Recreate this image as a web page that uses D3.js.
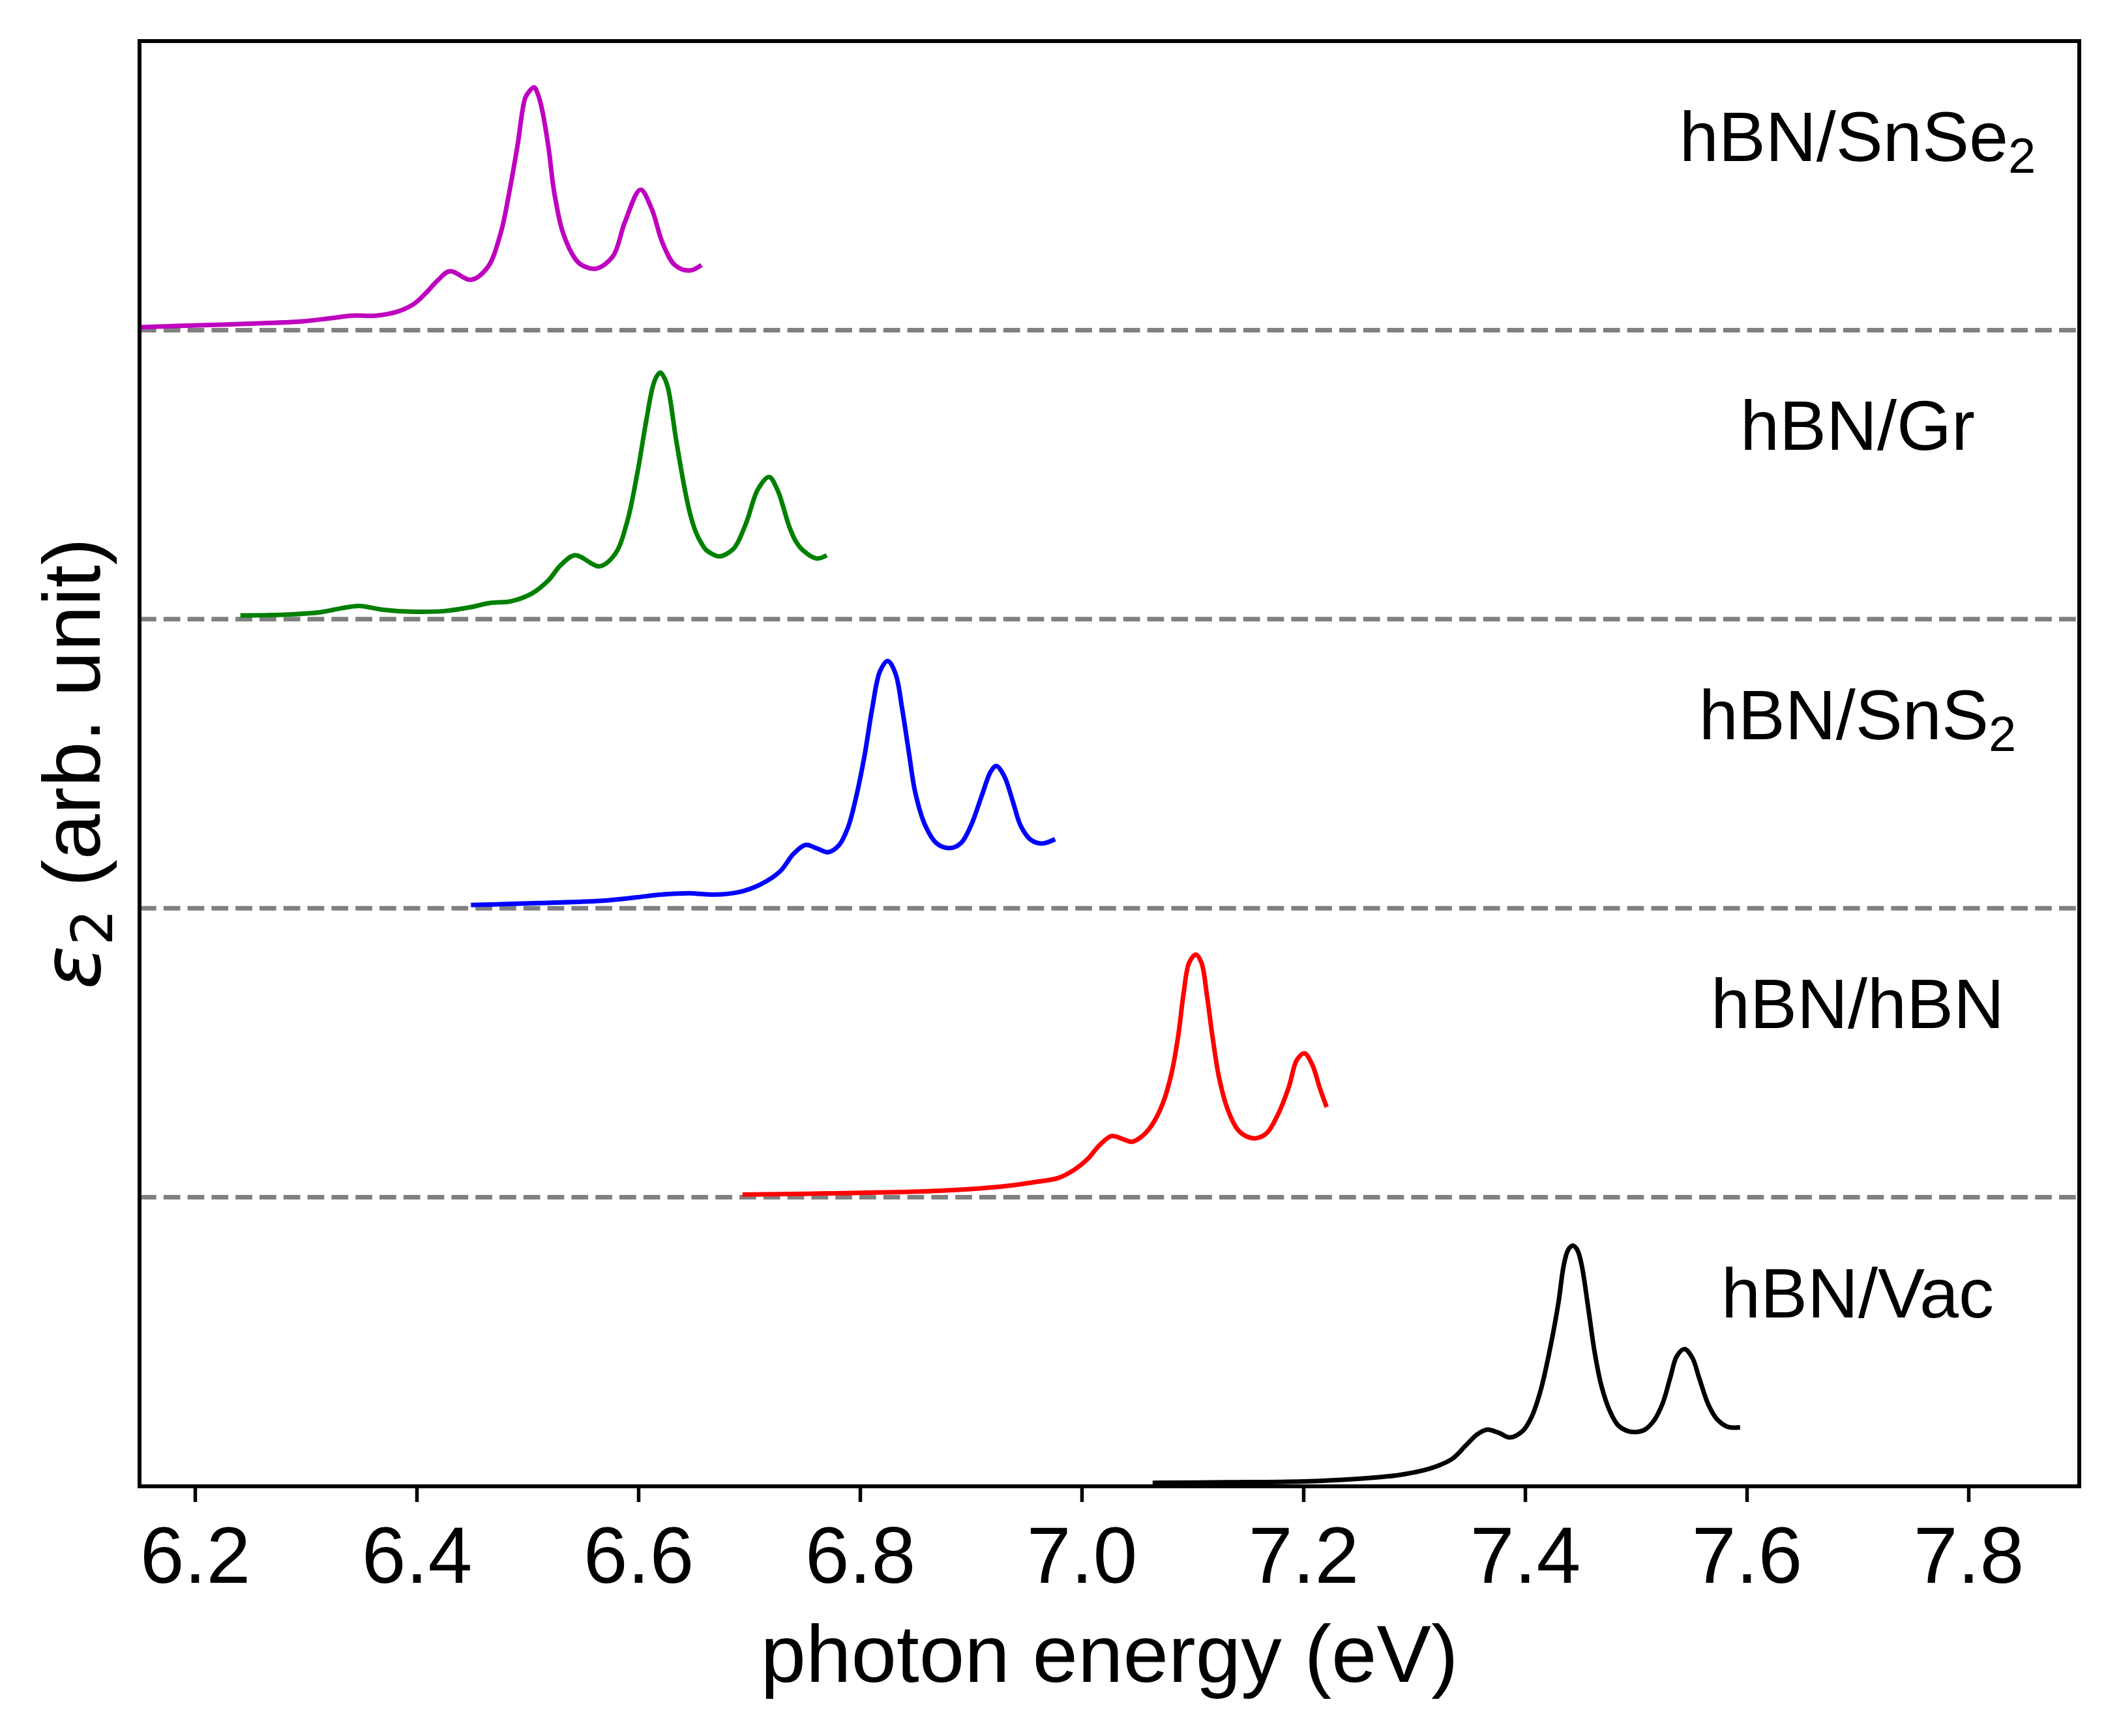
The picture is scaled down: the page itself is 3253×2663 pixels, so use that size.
<!DOCTYPE html>
<html>
<head>
<meta charset="utf-8">
<script src="https://d3js.org/d3.v7.min.js"></script>
<style>
  body { margin: 0; background: #ffffff; }
  svg { display: block; }
</style>
</head>
<body>
<div id="chart"></div>
<script>
// ---- data (eps2 in arbitrary units, before stacking) ----
const vacE   = [7.064, 7.13, 7.2, 7.249, 7.286, 7.309, 7.324, 7.335, 7.347, 7.357, 7.366, 7.377, 7.386, 7.398, 7.406, 7.414, 7.422, 7.430, 7.435, 7.439, 7.443, 7.447, 7.451, 7.457, 7.463, 7.469, 7.477, 7.484, 7.492, 7.500, 7.508, 7.516, 7.524, 7.531, 7.537, 7.544, 7.551, 7.557, 7.565, 7.573, 7.582, 7.588, 7.594];
const vacEps = [0.012, 0.014, 0.017, 0.026, 0.039, 0.056, 0.075, 0.097, 0.143, 0.18, 0.196, 0.184, 0.169, 0.192, 0.241, 0.331, 0.466, 0.632, 0.767, 0.819, 0.833, 0.819, 0.767, 0.617, 0.459, 0.346, 0.256, 0.211, 0.192, 0.188, 0.196, 0.226, 0.286, 0.376, 0.451, 0.475, 0.444, 0.376, 0.286, 0.233, 0.207, 0.203, 0.204];

const hbnE   = [6.694, 6.795, 6.870, 6.927, 6.957, 6.979, 6.994, 7.006, 7.016, 7.027, 7.036, 7.045, 7.053, 7.063, 7.073, 7.081, 7.087, 7.092, 7.097, 7.103, 7.108, 7.113, 7.118, 7.124, 7.132, 7.141, 7.149, 7.157, 7.167, 7.177, 7.187, 7.194, 7.201, 7.208, 7.215, 7.221];
const hbnEps = [0.009, 0.015, 0.022, 0.037, 0.052, 0.067, 0.097, 0.135, 0.18, 0.212, 0.203, 0.192, 0.207, 0.248, 0.323, 0.428, 0.556, 0.707, 0.812, 0.840, 0.812, 0.699, 0.556, 0.413, 0.301, 0.233, 0.210, 0.204, 0.222, 0.286, 0.383, 0.474, 0.498, 0.459, 0.376, 0.312];

const sns2E   = [6.449, 6.511, 6.567, 6.597, 6.620, 6.646, 6.668, 6.691, 6.710, 6.728, 6.740, 6.751, 6.761, 6.771, 6.781, 6.789, 6.796, 6.804, 6.811, 6.818, 6.825, 6.832, 6.838, 6.844, 6.850, 6.859, 6.869, 6.881, 6.891, 6.900, 6.910, 6.918, 6.923, 6.930, 6.938, 6.945, 6.954, 6.964, 6.976];
const sns2Eps = [0.011, 0.018, 0.026, 0.037, 0.047, 0.052, 0.047, 0.056, 0.082, 0.128, 0.188, 0.219, 0.207, 0.194, 0.218, 0.278, 0.376, 0.526, 0.691, 0.819, 0.855, 0.812, 0.691, 0.541, 0.398, 0.285, 0.225, 0.208, 0.225, 0.285, 0.391, 0.473, 0.492, 0.458, 0.368, 0.285, 0.237, 0.224, 0.239];

const grE   = [6.241, 6.268, 6.313, 6.331, 6.348, 6.369, 6.395, 6.425, 6.448, 6.466, 6.485, 6.504, 6.519, 6.530, 6.543, 6.565, 6.579, 6.590, 6.599, 6.607, 6.613, 6.6165, 6.620, 6.6235, 6.627, 6.634, 6.643, 6.647, 6.652, 6.657, 6.661, 6.667, 6.673, 6.686, 6.697, 6.708, 6.718, 6.726, 6.731, 6.736, 6.742, 6.748, 6.761, 6.770];
const grEps = [0.013, 0.014, 0.024, 0.037, 0.046, 0.033, 0.026, 0.028, 0.041, 0.056, 0.062, 0.089, 0.135, 0.187, 0.221, 0.183, 0.225, 0.338, 0.503, 0.683, 0.804, 0.84, 0.853, 0.835, 0.796, 0.623, 0.428, 0.36, 0.3, 0.262, 0.24, 0.225, 0.217, 0.244, 0.33, 0.45, 0.492, 0.443, 0.385, 0.322, 0.27, 0.24, 0.21, 0.221];

const snse2E   = [6.150, 6.198, 6.254, 6.299, 6.322, 6.342, 6.363, 6.382, 6.397, 6.408, 6.419, 6.430, 6.449, 6.464, 6.476, 6.483, 6.491, 6.498, 6.502, 6.506, 6.5095, 6.513, 6.519, 6.524, 6.532, 6.543, 6.549, 6.562, 6.577, 6.588, 6.602, 6.612, 6.622, 6.633, 6.646, 6.657];
const snse2Eps = [0.010, 0.016, 0.023, 0.031, 0.041, 0.05, 0.05, 0.063, 0.089, 0.127, 0.172, 0.204, 0.174, 0.217, 0.338, 0.465, 0.638, 0.804, 0.828, 0.84, 0.815, 0.766, 0.631, 0.48, 0.337, 0.247, 0.225, 0.213, 0.255, 0.375, 0.486, 0.42, 0.3, 0.225, 0.206, 0.225];

const names     = ["hBN/Vac", "hBN/hBN", "hBN/SnS", "hBN/Gr", "hBN/SnSe"];
const nameSubs  = ["", "", "2", "", "2"];
const offsets   = [0, 1, 2, 3, 4];
const colors    = ["#000000", "#ff0000", "#0000ff", "#008000", "#bf00bf"];
const energies  = [vacE, hbnE, sns2E, grE, snse2E];
const epsValues = [vacEps, hbnEps, sns2Eps, grEps, snse2Eps];
const xTicks    = [6.2, 6.4, 6.6, 6.8, 7.0, 7.2, 7.4, 7.6, 7.8];

// ---- layout ----
const width = 3253, height = 2663;
const plotLeft = 214, plotRight = 3189, plotTop = 63, plotBottom = 2280;
const sans = "'Liberation Sans', Arial, Helvetica, sans-serif";

const svg = d3.select("#chart").append("svg")
    .attr("width", width)
    .attr("height", height)
    .style("background", "#ffffff");

const x = d3.scaleLinear().domain([6.15, 7.9]).range([plotLeft, plotRight]);
const y = d3.scaleLinear().domain([0, 5]).range([plotBottom, plotTop]);

// clip curves to the axes box
svg.append("defs").append("clipPath")
    .attr("id", "plotArea")
    .append("rect")
    .attr("x", plotLeft)
    .attr("y", plotTop)
    .attr("width", plotRight - plotLeft)
    .attr("height", plotBottom - plotTop);

// dashed separators at each offset
svg.append("g")
    .selectAll("line")
    .data(offsets.filter(o => o > 0))
    .enter().append("line")
    .attr("x1", plotLeft)
    .attr("x2", plotRight)
    .attr("y1", d => y(d))
    .attr("y2", d => y(d))
    .style("stroke", "#808080")
    .style("stroke-width", 7)
    .style("stroke-dasharray", "25.7,11.1");

// stacked spectra
const series = names.map((n, i) => ({
    color: colors[i],
    points: energies[i].map((e, j) => ({ e: e, v: epsValues[i][j] + offsets[i] }))
}));

// smooth curve through the read points
const line = d3.line()
    .x(d => x(d.e))
    .y(d => y(d.v))
    .curve(d3.curveCatmullRom.alpha(0.5));

svg.append("g")
    .attr("clip-path", "url(#plotArea)")
    .selectAll("path")
    .data(series)
    .enter().append("path")
    .attr("d", d => line(d.points))
    .style("fill", "none")
    .style("stroke", d => d.color)
    .style("stroke-width", 7)
    .style("stroke-linejoin", "round");

// sample labels on the right
const labelG = svg.append("g")
    .style("font-family", sans)
    .style("font-size", "108px")
    .style("fill", "#000");

names.forEach((n, i) => {
    const t = labelG.append("text")
        .attr("x", x(7.7))
        .attr("y", y(offsets[i] + 0.585))
        .attr("text-anchor", "middle");
    t.append("tspan").text(n);
    if (nameSubs[i]) {
        t.append("tspan")
            .attr("dy", 18)
            .style("font-size", "76px")
            .text(nameSubs[i]);
    }
});

// x axis
const xAxis = d3.axisBottom(x)
    .tickValues(xTicks)
    .tickFormat(d3.format(".1f"))
    .tickSize(24)
    .tickSizeOuter(0)
    .tickPadding(37);

const gx = svg.append("g")
    .attr("transform", `translate(0,${plotBottom})`)
    .call(xAxis);
gx.select(".domain").remove();
gx.selectAll(".tick line")
    .style("stroke", "#000")
    .style("stroke-width", 5.5);
gx.selectAll(".tick text")
    .style("font-family", sans)
    .style("font-size", "122px")
    .style("fill", "#000");

// frame
svg.append("rect")
    .attr("x", plotLeft)
    .attr("y", plotTop)
    .attr("width", plotRight - plotLeft)
    .attr("height", plotBottom - plotTop)
    .style("fill", "none")
    .style("stroke", "#000")
    .style("stroke-width", 6);

// axis titles
svg.append("text")
    .attr("x", (plotLeft + plotRight) / 2)
    .attr("y", 2580)
    .attr("text-anchor", "middle")
    .style("font-family", sans)
    .style("font-size", "125px")
    .text("photon energy (eV)");

const yTitle = svg.append("text")
    .attr("transform", `translate(153,${(plotTop + plotBottom) / 2}) rotate(-90)`)
    .attr("text-anchor", "middle")
    .style("font-family", sans)
    .style("font-size", "125px");
yTitle.append("tspan")
    .style("font-family", "'DejaVu Sans', sans-serif")
    .style("font-style", "italic")
    .text("ε");
yTitle.append("tspan")
    .attr("dy", 19)
    .style("font-family", "'DejaVu Sans', sans-serif")
    .style("font-size", "87px")
    .text("2");
yTitle.append("tspan")
    .attr("dy", -19)
    .text(" (arb. unit)");
</script>
</body>
</html>
